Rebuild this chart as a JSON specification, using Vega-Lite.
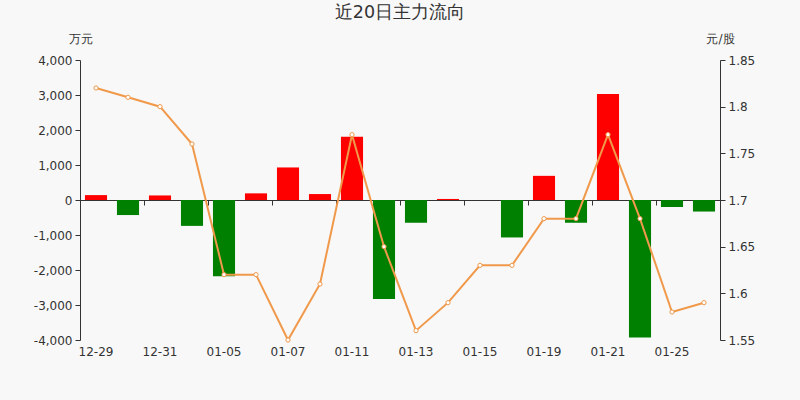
{
  "$schema": "https://vega.github.io/schema/vega-lite/v6.json",
  "width": 640,
  "height": 280,
  "autosize": "none",
  "padding": {"left": 80, "top": 60, "right": 80, "bottom": 60},
  "background": "#f8f8f8",
  "title": {
    "text": "近20日主力流向",
    "anchor": "middle",
    "fontSize": 17.5,
    "fontWeight": "normal",
    "color": "#333",
    "font": "DejaVu Sans",
    "offset": 11
  },
  "data": {
    "values": [
      {"date": "12-29", "flow": 140, "price": 1.82},
      {"date": "12-30", "flow": -430, "price": 1.81},
      {"date": "12-31", "flow": 130, "price": 1.80},
      {"date": "01-04", "flow": -740, "price": 1.76},
      {"date": "01-05", "flow": -2180, "price": 1.62},
      {"date": "01-06", "flow": 190, "price": 1.62},
      {"date": "01-07", "flow": 930, "price": 1.55},
      {"date": "01-08", "flow": 170, "price": 1.61},
      {"date": "01-11", "flow": 1810, "price": 1.77},
      {"date": "01-12", "flow": -2830, "price": 1.65},
      {"date": "01-13", "flow": -650, "price": 1.56},
      {"date": "01-14", "flow": 30, "price": 1.59},
      {"date": "01-15", "flow": 0, "price": 1.63},
      {"date": "01-18", "flow": -1070, "price": 1.63},
      {"date": "01-19", "flow": 690, "price": 1.68},
      {"date": "01-20", "flow": -650, "price": 1.68},
      {"date": "01-21", "flow": 3030, "price": 1.77},
      {"date": "01-22", "flow": -3930, "price": 1.68},
      {"date": "01-25", "flow": -200, "price": 1.58},
      {"date": "01-26", "flow": -330, "price": 1.59}
    ]
  },
  "encoding": {
    "x": {
      "field": "date",
      "type": "nominal",
      "sort": null,
      "scale": {"paddingInner": 0, "paddingOuter": 0}
    }
  },
  "layer": [
    {
      "mark": {"type": "bar", "width": {"band": 0.69}},
      "encoding": {
        "x": {
          "field": "date",
          "type": "nominal",
          "sort": null,
          "axis": {
            "orient": "bottom",
            "offset": -140,
            "labels": false,
            "title": null,
            "values": ["12-29", "12-31", "01-05", "01-07", "01-11", "01-13", "01-15", "01-19", "01-21", "01-25"],
            "bandPosition": 0,
            "domainColor": "#333",
            "tickColor": "#333",
            "tickSize": 5,
            "grid": false
          }
        },
        "y": {
          "field": "flow",
          "type": "quantitative",
          "scale": {"domain": [-4000, 4000]},
          "axis": {
            "values": [-4000, -3000, -2000, -1000, 0, 1000, 2000, 3000, 4000],
            "labelExpr": "replace(format(datum.value, ',d'), '−', '-')",
            "grid": false,
            "title": "万元",
            "titleAngle": 0,
            "titleX": 0,
            "titleY": -22,
            "titleAlign": "center",
            "titleBaseline": "middle",
            "titleFontWeight": "normal",
            "titleFontSize": 12,
            "titleColor": "#333",
            "domainColor": "#333",
            "tickColor": "#333",
            "tickSize": 5,
            "labelPadding": 3
          }
        },
        "color": {
          "condition": {"test": "datum.flow >= 0", "value": "#ff0000"},
          "value": "#008000"
        }
      }
    },
    {
      "mark": {"type": "line", "color": "#f0994b", "strokeWidth": 2, "point": {"filled": true, "fill": "white", "stroke": "#f0994b", "strokeWidth": 1, "size": 18}},
      "encoding": {
        "x": {
          "field": "date",
          "type": "nominal",
          "sort": null,
          "axis": {
            "orient": "bottom",
            "labels": true,
            "ticks": false,
            "domain": false,
            "title": null,
            "labelAngle": 0,
            "values": ["12-29", "12-31", "01-05", "01-07", "01-11", "01-13", "01-15", "01-19", "01-21", "01-25"],
            "labelPadding": 6,
            "grid": false
          }
        },
        "y": {
          "field": "price",
          "type": "quantitative",
          "scale": {"domain": [1.55, 1.85], "zero": false},
          "axis": {
            "orient": "right",
            "values": [1.55, 1.6, 1.65, 1.7, 1.75, 1.8, 1.85],
            "format": "~g",
            "grid": false,
            "title": "元/股",
            "titleAngle": 0,
            "titleX": 0,
            "titleY": -22,
            "titleAlign": "center",
            "titleBaseline": "middle",
            "titleFontWeight": "normal",
            "titleFontSize": 12,
            "titleColor": "#333",
            "domainColor": "#333",
            "tickColor": "#333",
            "tickSize": 5,
            "labelPadding": 3
          }
        }
      }
    }
  ],
  "resolve": {"scale": {"y": "independent"}, "axis": {"x": "independent"}},
  "config": {
    "view": {"stroke": null},
    "font": "DejaVu Sans",
    "axis": {"labelFontSize": 12, "labelColor": "#333", "labelFont": "DejaVu Sans", "titleFont": "DejaVu Sans"}
  }
}
